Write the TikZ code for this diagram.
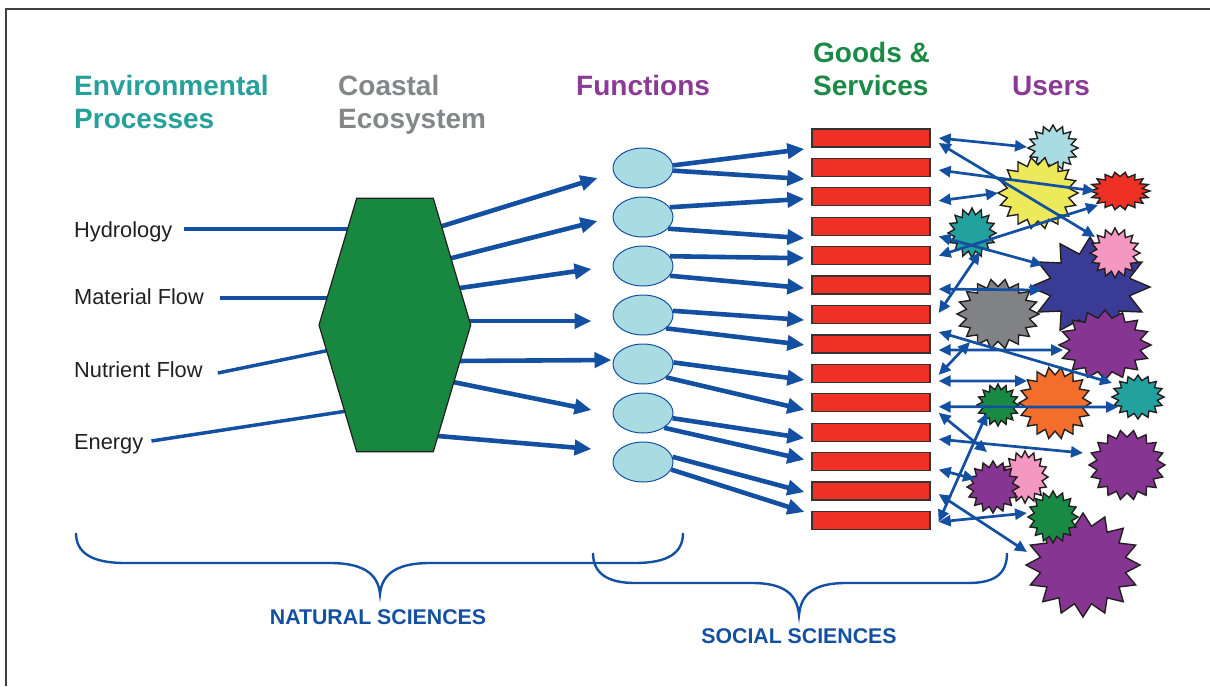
\documentclass[tikz,border=0pt]{standalone}
\usepackage{fontspec}
\setmainfont{Liberation Sans}
\usetikzlibrary{arrows.meta,calc,shapes.geometric}
\definecolor{bl}{RGB}{20,80,162}
\definecolor{txt}{RGB}{35,31,32}
\definecolor{hteal}{RGB}{38,160,154}
\definecolor{hgray}{RGB}{132,134,137}
\definecolor{hpurple}{RGB}{139,58,150}
\definecolor{hgreen}{RGB}{26,138,69}
\definecolor{rectred}{RGB}{238,49,36}
\definecolor{ellblue}{RGB}{169,219,227}
\definecolor{hexgreen}{RGB}{24,136,65}
\definecolor{sLB}{RGB}{168,220,226}
\definecolor{sYE}{RGB}{236,233,90}
\definecolor{sRE}{RGB}{238,49,36}
\definecolor{sTE}{RGB}{35,161,159}
\definecolor{sPK}{RGB}{244,151,193}
\definecolor{sNV}{RGB}{57,59,149}
\definecolor{sGR}{RGB}{129,130,133}
\definecolor{sPU}{RGB}{135,53,146}
\definecolor{sOR}{RGB}{242,110,42}
\definecolor{sDG}{RGB}{25,138,67}
\newcommand{\burst}[8]{%
  \coordinate (#1) at (#2,#3);
  \filldraw[starline, fill=#8] plot[samples=#6, domain=0:360]
    ({#2+#4*(1-(1-#7)*(1-cos(\x*(#6-1)/2))/2)*cos(\x)},
     {#3+#5*(1-(1-#7)*(1-cos(\x*(#6-1)/2))/2)*sin(\x)}) -- cycle;}
\begin{document}
\begin{tikzpicture}[x=1pt,y=-1pt,
  bigarr/.style={draw=bl, line width=4.6pt, -{Triangle[length=17pt,width=15pt]}},
  uarr/.style={draw=bl, line width=2.7pt, {Triangle[length=12pt,width=11pt]}-{Triangle[length=12pt,width=11pt]}},
  inl/.style={draw=bl, line width=3.5pt},
  gsbox/.style={draw=black!80, line width=1.3pt, fill=rectred, minimum width=118pt, minimum height=18pt, inner sep=0pt},
  fn/.style={ellipse, draw=bl, line width=1pt, fill=ellblue, minimum width=60pt, minimum height=40pt, inner sep=0pt},
  starline/.style={draw=txt, line width=1.4pt, line join=miter},
  lab/.style={inner sep=0pt, anchor=base west, text=txt, font=\fontsize{21.8}{26}\selectfont},
  hdr/.style={inner sep=0pt, anchor=base west, font=\fontsize{28}{33}\selectfont\bfseries},
  sci/.style={inner sep=0pt, text=bl, font=\fontsize{21.3}{25}\selectfont\bfseries},
  brace/.style={draw=bl, line width=2.4pt}]
\useasboundingbox (0,0) rectangle (1210,686);
% frame
\draw[line width=1.4pt, black!75] (6,686) -- (6,9) -- (1210,9);

% headers
\node[hdr, text=hteal] (h1a) at (74,95) {Environmental};
\node[hdr, text=hteal] (h1b) at (74,128) {Processes};
\node[hdr, text=hgray] (h2a) at (338,95) {Coastal};
\node[hdr, text=hgray] (h2b) at (338,128) {Ecosystem};
\node[hdr, text=hpurple] (h3) at (576,95) {Functions};
\node[hdr, text=hgreen] (h4a) at (813,62) {Goods \&};
\node[hdr, text=hgreen] (h4b) at (813,95) {Services};
\node[hdr, text=hpurple] (h5) at (1012,95) {Users};

% labels
\node[lab] (hyd) at (74,237) {Hydrology};
\node[lab] (mat) at (74,304) {Material Flow};
\node[lab] (nut) at (74,377) {Nutrient Flow};
\node[lab] (ene) at (74,449) {Energy};

\coordinate (hex) at (395,325);
% input lines
\draw[inl] ($(hyd.base east)+(11,-8)$) -- ($(hex)+(-35,-96)$);
\draw[inl] ($(mat.base east)+(16,-6)$) -- ($(hex)+(-55,-27)$);
\draw[inl] ($(nut.base east)+(15,-4)$) -- ($(hex)+(-55,23)$);
\draw[inl] ($(ene.base east)+(8,-8)$) -- ($(hex)+(-35,84)$);

% functions
\foreach \i in {1,...,7} \node[fn] (e\i) at (643,{168+49*(\i-1)}) {};
% goods & services
\foreach \k in {0,...,13} \node[gsbox] (r\k) at (871,{138+29.42*\k}) {};

% hex -> functions
\draw[bigarr] ($(hex)+(41,-97)$) -- ($(e1.west)+(-15,10)$);
\draw[bigarr] ($(hex)+(51,-65.5)$) -- ($(e2.west)+(-15,4)$);
\draw[bigarr] ($(hex)+(58,-36)$) -- ($(e3.west)+(-21,3)$);
\draw[bigarr] ($(hex)+(70,-4)$) -- ($(e4.west)+(-21,6)$);
\draw[bigarr] ($(hex)+(59,36)$) -- ($(e5.west)+(-1,-4)$);
\draw[bigarr] ($(hex)+(53,56)$) -- ($(e6.west)+(-21,-3)$);
\draw[bigarr] ($(hex)+(37,110.5)$) -- ($(e7.west)+(-21,-13)$);

% hexagon
\filldraw[draw=txt, line width=1.2pt, fill=hexgreen] (356.7,198.3) -- (433.3,198.3) -- (470.7,325) -- (433.3,451.7) -- (356.7,451.7) -- (319,325) -- cycle;

% functions -> goods
\draw[bigarr] (e1.5) -- ($(r0.west)+(-7,11)$);
\draw[bigarr] (e1.-5) -- ($(r1.west)+(-7,11.6)$);
\draw[bigarr] (e2.20) -- ($(r2.west)+(-7,2)$);
\draw[bigarr] (e2.-25) -- ($(r3.west)+(-7,12)$);
\draw[bigarr] (e3.20) -- ($(r4.west)+(-7,2.5)$);
\draw[bigarr] (e3.-20) -- ($(r5.west)+(-7,3)$);
\draw[bigarr] (e4.8) -- ($(r6.west)+(-7,5.5)$);
\draw[bigarr] (e4.-30) -- ($(r7.west)+(-7,1)$);
\draw[bigarr] (e5.3) -- ($(r8.west)+(-7,6.6)$);
\draw[bigarr] (e5.-30) -- ($(r9.west)+(-7,7)$);
\draw[bigarr] (e6.-10) -- ($(r10.west)+(-7,6)$);
\draw[bigarr] (e6.-35) -- ($(r11.west)+(-7,-2)$);
\draw[bigarr] (e7.10) -- ($(r12.west)+(-7,1)$);
\draw[bigarr] (e7.-15) -- ($(r13.west)+(-7,-8.5)$);

% users
\burst{s1}{1053}{148}{25}{23}{33}{0.74}{sLB}
\burst{s2}{1038}{193}{40}{36}{37}{0.78}{sYE}
\burst{s3}{1120}{191}{30}{19}{37}{0.76}{sRE}
\burst{s4}{972}{233}{24}{25}{33}{0.74}{sTE}
\burst{s6}{1090}{287}{60}{50}{25}{0.68}{sNV}
\burst{s5}{1115}{253}{25}{25}{33}{0.74}{sPK}
\burst{s7}{998}{314}{41}{35}{37}{0.78}{sGR}
\burst{s8}{1105}{345}{46}{35}{33}{0.78}{sPU}
\burst{s9}{1055}{403}{36}{36}{37}{0.78}{sOR}
\burst{s10}{998}{405}{21}{21}{33}{0.74}{sDG}
\burst{s11}{1138}{397}{26}{22}{33}{0.76}{sTE}
\burst{s12}{1127}{465}{38}{35}{37}{0.8}{sPU}
\burst{s13}{1025}{477}{23}{26}{33}{0.76}{sPK}
\burst{s14}{993}{487}{26}{26}{33}{0.76}{sPU}
\burst{s16}{1083}{565}{57}{52}{33}{0.76}{sPU}
\burst{s15}{1053}{517}{25}{26}{33}{0.76}{sDG}

% goods -> users
\draw[uarr] ($(r0.east)+(8,0)$) -- ($(s1)+(-26,-1)$);
\draw[uarr] ($(r0.east)+(8,5)$) -- ($(s5)+(-20,-16)$);
\draw[uarr] ($(r1.east)+(8,2.6)$) -- ($(s3)+(-25,0)$);
\draw[uarr] ($(r2.east)+(8,4)$) -- ($(s2)+(-40,0)$);
\draw[uarr] ($(r3.east)+(8,10)$) -- ($(s6)+(-47,-22)$);
\draw[uarr] ($(r4.east)+(8,0)$) -- ($(s3)+(-22,14)$);
\draw[uarr] ($(r5.east)+(8,4)$) -- ($(s6)+(-48,3)$);
\draw[uarr] ($(r6.east)+(8,-1.5)$) -- ($(s4)+(8,19)$);
\draw[uarr] ($(r7.east)+(8,-12)$) -- ($(s11)+(-26,-14)$);
\draw[uarr] ($(r7.east)+(8,6)$) -- ($(s8)+(-42,5)$);
\draw[uarr] ($(r8.east)+(8,1.6)$) -- ($(s7)+(-28,28)$);
\draw[uarr] ($(r8.east)+(8,7.6)$) -- ($(s9)+(-28,-22)$);
\draw[uarr] ($(r9.east)+(8,4)$) -- ($(s11)+(-20,10)$);
\draw[uarr] ($(r9.east)+(8,10)$) -- ($(s14)+(-6,-35)$);
\draw[uarr] ($(r10.east)+(8,7)$) -- ($(s12)+(-44,-12)$);
\draw[uarr] ($(r11.east)+(8,8)$) -- ($(s14)+(-18,-8)$);
\draw[uarr] ($(r12.east)+(8,3)$) -- ($(s16)+(-56,-13)$);
\draw[uarr] ($(r13.east)+(8,1.5)$) -- ($(s15)+(-26,-4)$);
\draw[uarr] ($(r13.east)+(8,1.5)$) -- ($(s10)+(-11,8)$);

% braces
\draw[brace] (76,533) .. controls (76,553) and (92,563) .. (125,563) -- (330,563)
  .. controls (362,563) and (378,573) .. (380,594)
  .. controls (382,573) and (398,563) .. (430,563) -- (635,563)
  .. controls (668,563) and (683,553) .. (683,533);
\draw[brace] (593,553) .. controls (593,573) and (607,583) .. (635,583) -- (752,583)
  .. controls (784,583) and (797,594) .. (799,615)
  .. controls (801,594) and (814,583) .. (846,583) -- (968,583)
  .. controls (996,583) and (1007,573) .. (1007,553);
\node[sci] (nat) at (378,617) {NATURAL SCIENCES};
\node[sci] (soc) at (799,636) {SOCIAL SCIENCES};
\end{tikzpicture}
\end{document}
